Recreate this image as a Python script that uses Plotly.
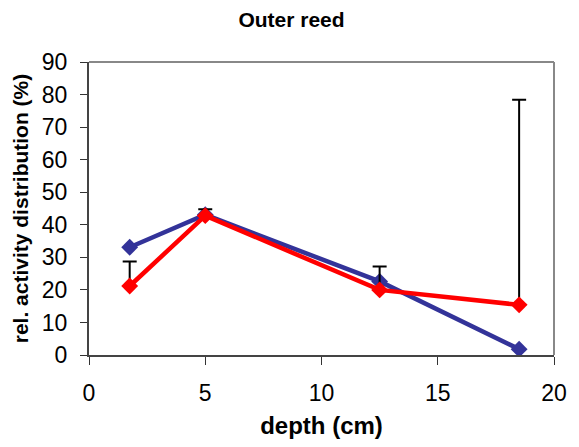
import plotly.graph_objects as go

depth = [1.75, 5.0, 12.5, 18.5]
blue_vals = [33.1, 43.1, 22.6, 1.8]
red_vals = [21.2, 42.8, 20.0, 15.4]
red_err_plus = [7.5, 2.0, 7.2, 63.0]

x_ticks = [0, 5, 10, 15, 20]
y_ticks = [0, 10, 20, 30, 40, 50, 60, 70, 80, 90]

fig = go.Figure()
fig.add_trace(go.Scatter(
    x=depth, y=blue_vals, mode="lines+markers",
    line=dict(color="#333399", width=4.5),
    marker=dict(symbol="diamond", size=13, color="#333399"),
    showlegend=False,
))
fig.add_trace(go.Scatter(
    x=depth, y=red_vals, mode="lines+markers",
    line=dict(color="#FF0000", width=4.5),
    marker=dict(symbol="diamond", size=13, color="#FF0000"),
    error_y=dict(type="data", symmetric=False, array=red_err_plus,
                 arrayminus=[0, 0, 0, 0], color="black", thickness=2, width=7),
    showlegend=False,
))

font_family = "Liberation Sans, Arial, sans-serif"
fig.update_layout(
    width=571, height=439,
    margin=dict(l=79, r=23, t=54, b=92),
    paper_bgcolor="white", plot_bgcolor="white",
    font=dict(family=font_family, color="black"),
    title=dict(text="<b>Outer reed</b>", x=0.4965, xanchor="center", y=0.974, yanchor="middle",
               font=dict(size=21, family=font_family, color="black")),
    xaxis=dict(
        range=[0, 20], tickvals=x_ticks, ticks="outside", ticklen=8, tickcolor="#333",
        showline=True, linecolor="#444", linewidth=2, mirror=False,
        showgrid=False, zeroline=False,
        tickfont=dict(size=23), ticklabelstandoff=8,
        title=dict(text="<b>depth (cm)</b>", font=dict(size=24), standoff=13),
    ),
    yaxis=dict(
        range=[0, 90], tickvals=y_ticks, ticks="outside", ticklen=7, tickcolor="#333",
        showline=True, linecolor="#444", linewidth=2, mirror=False,
        showgrid=False, zeroline=False,
        tickfont=dict(size=23), ticklabelstandoff=8,
        title=dict(text="<b>rel. activity distribution (%)</b>", font=dict(size=21), standoff=7),
    ),
    shapes=[
        dict(type="line", xref="paper", yref="paper", x0=0, x1=1, y0=1, y1=1,
             line=dict(color="#888888", width=2)),
        dict(type="line", xref="paper", yref="paper", x0=1, x1=1, y0=0, y1=1,
             line=dict(color="#888888", width=2)),
    ],
)

fig.write_html("out.html")
